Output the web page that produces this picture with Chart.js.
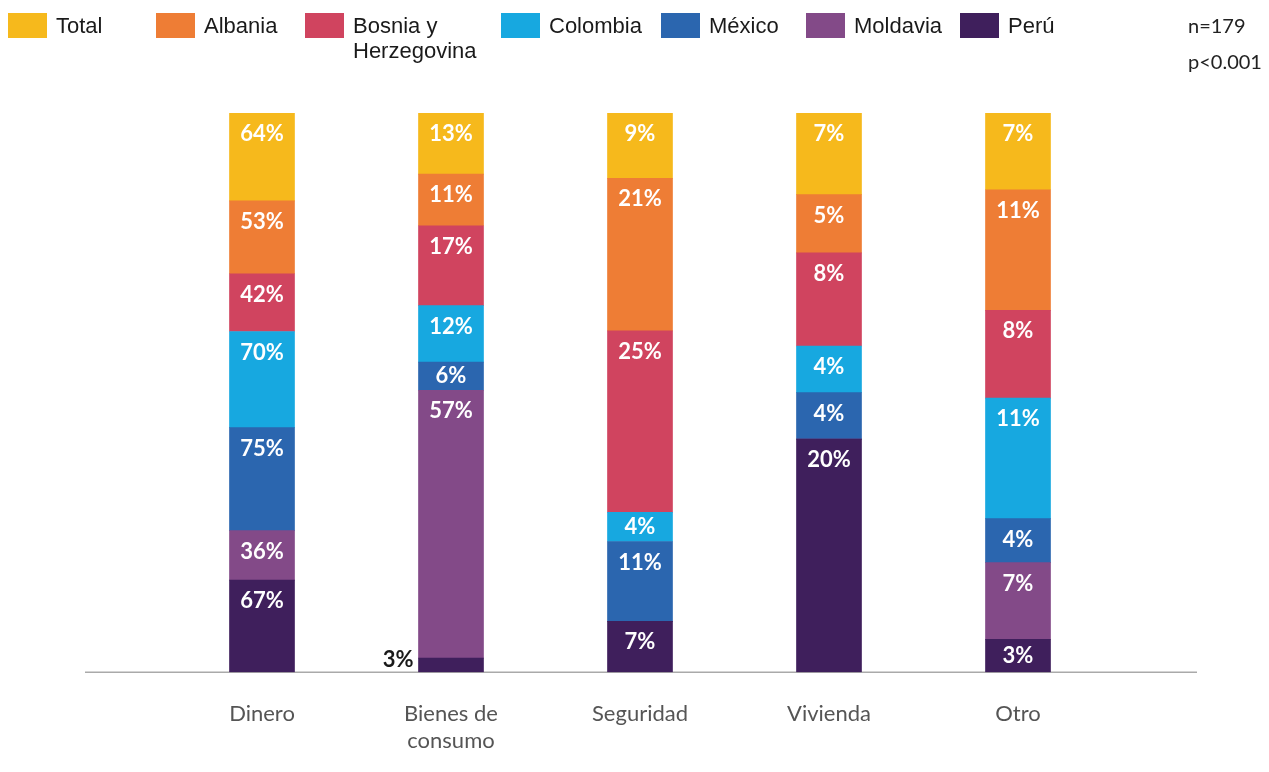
<!DOCTYPE html>
<html lang="es">
<head>
<meta charset="utf-8">
<title>Dinero, bienes, seguridad, vivienda</title>
<script src="https://cdn.jsdelivr.net/npm/chart.js@4.4.1/dist/chart.umd.min.js"></script>
<style>
  body { margin: 0; background: #fff; }
  #wrap { position: relative; width: 1269px; height: 772px; }
  #box { position: absolute; left: 0; top: 0; width: 1269px; height: 772px; }
  .lg { position: absolute; top: 13px; font: 22px/25px "Liberation Sans", Arial, sans-serif; color: #1a1a1a; }
  .lg i { position: absolute; left: 0; top: 0; width: 39px; height: 25px; }
  .lg span { position: absolute; left: 48px; top: 0; white-space: nowrap; }
  #note { position: absolute; left: 1188px; top: 7px; font: 20px/36px Lato, sans-serif; color: #222; }
</style>
</head>
<body>
<div id="wrap">
  <div id="box"><canvas id="chart"></canvas></div>
  <div id="legend"></div>
  <div id="note">n=179<br>p&lt;0.001</div>
</div>
<script>
// categorías (eje x)
const categories = ["Dinero", ["Bienes de", "consumo"], "Seguridad", "Vivienda", "Otro"];

// porcentajes por grupo, en el orden de las categorías
const total    = [64, 13, 9, 7, 7];
const albania  = [53, 11, 21, 5, 11];
const bosnia   = [42, 17, 25, 8, 8];
const colombia = [70, 12, 4, 4, 11];
const mexico   = [75, 6, 11, 4, 4];
const moldavia = [36, 57, 0, 0, 7];
const peru     = [67, 3, 7, 20, 3];

// series de arriba hacia abajo (orden de la leyenda)
const series = [
  { name: "Total", values: total, color: "#F6B91C" },
  { name: "Albania", values: albania, color: "#EE7D35" },
  { name: "Bosnia y<br>Herzegovina", values: bosnia, color: "#D0445F" },
  { name: "Colombia", values: colombia, color: "#17A8E0" },
  { name: "México", values: mexico, color: "#2B66AF" },
  { name: "Moldavia", values: moldavia, color: "#834A88" },
  { name: "Perú", values: peru, color: "#3F1F5C" }
];

// leyenda en HTML
const legendLeft = [8, 156, 305, 501, 661, 806, 960];
const legend = document.getElementById("legend");
series.forEach((s, i) => {
  const d = document.createElement("div");
  d.className = "lg";
  d.style.left = legendLeft[i] + "px";
  d.innerHTML = `<i style="background:${s.color}"></i><span>${s.name}</span>`;
  legend.appendChild(d);
});

// cada barra se lleva al 100 %
const colSums = categories.map((c, i) => series.reduce((a, s) => a + s.values[i], 0));

const datasets = series.slice().reverse().map(s => ({
  label: s.name,
  counts: s.values,
  data: s.values.map((v, i) => v / colSums[i] * 100),
  backgroundColor: s.color,
  borderWidth: 0,
  barThickness: 65
}));

// línea base
const baseLine = {
  id: "baseLine",
  beforeDatasetsDraw(chart) {
    const ctx = chart.ctx;
    const y = chart.chartArea.bottom;
    ctx.save();
    ctx.strokeStyle = "#aaaaaa";
    ctx.lineWidth = 1.5;
    ctx.beginPath();
    ctx.moveTo(85, y);
    ctx.lineTo(1197, y);
    ctx.stroke();
    ctx.restore();
  }
};

// etiquetas de los segmentos
const segLabels = {
  id: "segLabels",
  afterDatasetsDraw(chart) {
    const ctx = chart.ctx;
    ctx.save();
    ctx.font = "bold 22px Lato, sans-serif";
    ctx.textBaseline = "middle";
    chart.data.datasets.forEach((ds, di) => {
      const meta = chart.getDatasetMeta(di);
      meta.data.forEach((bar, i) => {
        const v = ds.counts[i];
        if (!v) return;
        const p = bar.getProps(["x", "y", "base", "width"], true);
        const top = Math.min(p.y, p.base);
        const h = Math.abs(p.base - p.y);
        if (h < 20) {
          ctx.fillStyle = "#1a1a1a";
          ctx.textAlign = "right";
          ctx.fillText(v + "%", p.x - p.width / 2 - 5, p.base - 12);
        } else {
          ctx.fillStyle = "#ffffff";
          ctx.textAlign = "center";
          ctx.fillText(v + "%", p.x, top + (h < 40 ? h / 2 : 21));
        }
      });
    });
    ctx.restore();
  }
};

new Chart(document.getElementById("chart"), {
  type: "bar",
  data: { labels: categories, datasets: datasets },
  options: {
    responsive: true,
    maintainAspectRatio: false,
    animation: false,
    layout: { padding: { left: 167.5, right: 156.5, top: 113, bottom: -3 } },
    plugins: { legend: { display: false }, tooltip: { enabled: false } },
    scales: {
      x: {
        stacked: true,
        grid: { display: false },
        border: { display: false },
        ticks: {
          color: "#555555",
          font: { family: "Lato, sans-serif", size: 22 },
          padding: 21,
          maxRotation: 0
        }
      },
      y: { stacked: true, min: 0, max: 100, display: false }
    }
  },
  plugins: [baseLine, segLabels]
});
</script>
</body>
</html>
